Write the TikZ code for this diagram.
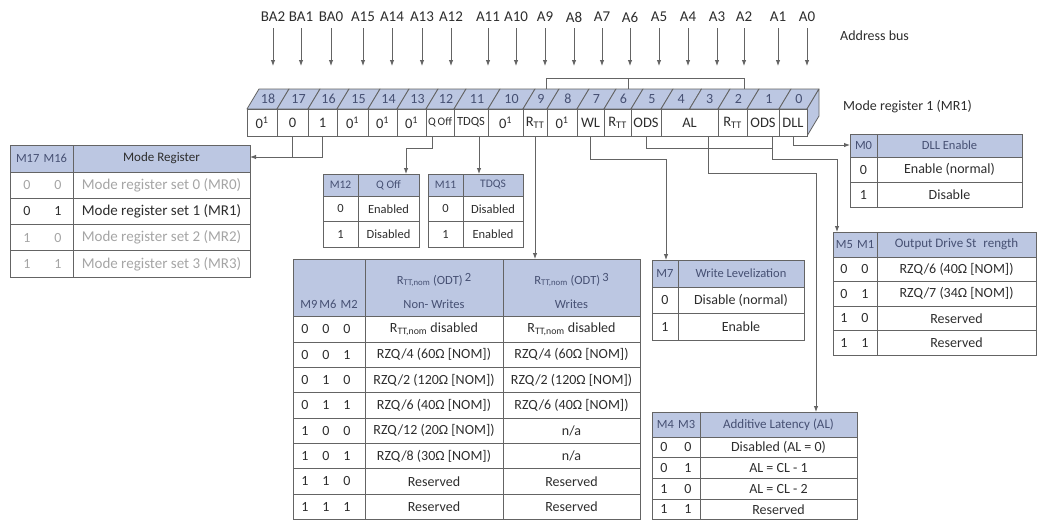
\documentclass[tikz,border=0pt]{standalone}
\usepackage{fontspec}
\setmainfont{Carlito}
\usetikzlibrary{arrows.meta}
\definecolor{hdr}{RGB}{188,199,226}
\definecolor{ln}{RGB}{100,100,100}
\definecolor{txt}{RGB}{45,45,45}
\definecolor{lt}{RGB}{165,165,165}
\definecolor{htx}{RGB}{70,80,115}
\newcommand{\RTT}{R\textsubscript{TT}}
\newcommand{\RTTn}{R\textsubscript{TT,nom}}
\newcommand{\zo}{0\textsuperscript{1}}
\newcommand{\fs}[1]{\fontsize{#1}{#1}\selectfont}
\tikzset{
 lnk/.style={draw=ln, line width=0.9pt},
 arr/.style={lnk, -{Latex[length=6pt,width=4.5pt]}},
 busl/.style={font=\fs{15}, text=txt, inner sep=0pt},
 face/.style={fill=hdr, draw=ln, line width=0.8pt, line join=round},
 cell/.style={draw=ln, line width=0.8pt, fill=white, inner sep=0pt, outer sep=0pt, anchor=north west, minimum height=27pt, font=\fs{14.5}, text=txt},
 bitn/.style={font=\fs{14}, text=htx, inner sep=0pt},
 tbox/.style={draw=ln, line width=0.8pt, inner sep=0pt, outer sep=0pt, anchor=north west},
 tl/.style={draw=ln, line width=0.6pt},
 tt/.style={font=\fs{14}, text=txt, inner sep=0pt},
 th/.style={font=\fs{12.5}, text=htx, inner sep=0pt},
 lab/.style={font=\fs{14}, text=txt, inner sep=0pt, anchor=west},
}
\newcommand{\regcell}[4]{\node[cell, minimum width={#3pt-#2pt}] (#1) at (#2,109) {#4};}
\newcommand{\tworow}[7]{%
 \node[tt, text=#7] (#1a) at (#2,#4) {#5};
 \node[tt, text=#7] (#1b) at (#3,#4) {#6};}
\newcommand{\rrow}[7]{%
 \node[tt] (r#1a) at (305,#2) {#3};
 \node[tt] (r#1b) at (326,#2) {#4};
 \node[tt] (r#1c) at (347,#2) {#5};
 \node[tt] (r#1d) at (434,#2) {#6};
 \node[tt] (r#1e) at (571.5,#2) {#7};}
\begin{document}
\begin{tikzpicture}[x=1pt,y=-1pt]
\useasboundingbox (0,0) rectangle (1038,520);
% ---------------- address bus
\foreach \n/\x in {BA2/273,BA1/301,BA0/331,A15/363,A14/392,A13/422,A12/451,A11/488,A10/516,A9/545,A8/574,A7/602,A6/630,A5/659,A4/688,A3/717,A2/744,A1/778,A0/807}{
 \node[busl] (a\n) at (\x,17) {\n};
 \coordinate (t\n) at (\x,66);
 \draw[arr] (a\n) ++(0,11) -- (t\n);
}
\node[lab] (abus) at (840,36) {Address bus};
\node[lab] (mr1) at (843,107) {Mode register 1 (MR1)};
% ---------------- register top face
\foreach \a/\b/\n in {247/277/18,277/308/17,308/337/16,337/368/15,368/397/14,397/426/13,426/454/12,454/488/11,488/523/10,523/547/9,547/577/8,577/604/7,604/631/6,631/661/5,661/689.5/4,689.5/718/3,718/747/2,747/779/1,779/807/0}{
 \filldraw[face] (\a,109) -- (\a+12,89) -- (\b+12,89) -- (\b,109) -- cycle;
 \node[bitn] (n\n) at ({(\a+\b)/2+6},99) {\n};
}
\filldraw[face] (807,109) -- (819,89) -- (819,116) -- (807,136) -- cycle;
% ---------------- register front cells
\regcell{c18}{247}{277}{\zo}
\regcell{c17}{277}{308}{0}
\regcell{c16}{308}{337}{1}
\regcell{c15}{337}{368}{\zo}
\regcell{c14}{368}{397}{\zo}
\regcell{c13}{397}{426}{\zo}
\regcell{c12}{426}{454}{\fs{11.5}Q\,Off}
\regcell{c11}{454}{488}{\fs{12.5}TDQS}
\regcell{c10}{488}{523}{\zo}
\regcell{c9}{523}{547}{\RTT}
\regcell{c8}{547}{577}{\zo}
\regcell{c7}{577}{604}{WL}
\regcell{c6}{604}{631}{\RTT}
\regcell{c5}{631}{661}{ODS}
\regcell{cAL}{661}{718}{AL}
\regcell{c2}{718}{747}{\RTT}
\regcell{c1}{747}{779}{ODS}
\regcell{c0}{779}{807}{DLL}
% bracket over R_TT bits
\coordinate (bt9) at (546,89);
\coordinate (bt6) at (628,89);
\coordinate (bt2) at (744,89);
\coordinate (bk) at (0,78);
\draw[lnk] (bt9) |- (bt2 |- bk) -- (bt2);
\draw[lnk] (bt6) -- (bt6 |- bk);
% ---------------- Mode register table
\fill[hdr] (10,145) rectangle (250,172);
\draw[tl] (10,172) -- (250,172) (10,198.25) -- (250,198.25) (10,224.5) -- (250,224.5) (10,250.75) -- (250,250.75) (73,145) -- (73,277);
\node[tbox, minimum width=240pt, minimum height=132pt] (tMR) at (10,145) {};
\node[th] (mrh1) at (41.5,158.5) {M17\,\,M16};
\node[th, text=txt, font=\fs{13}] (mrh2) at (161.5,158.5) {Mode Register};
\tworow{mr1}{27}{58}{185.1}{0}{0}{lt}
\tworow{mr2}{27}{58}{211.4}{0}{1}{txt}
\tworow{mr3}{27}{58}{237.6}{1}{0}{lt}
\tworow{mr4}{27}{58}{263.9}{1}{1}{lt}
\node[tt, text=lt, font=\fs{15}] (mr1c) at (161.5,185.1) {Mode register set 0 (MR0)};
\node[tt, font=\fs{15}] (mr2c) at (161.5,211.4) {Mode register set 1 (MR1)};
\node[tt, text=lt, font=\fs{15}] (mr3c) at (161.5,237.6) {Mode register set 2 (MR2)};
\node[tt, text=lt, font=\fs{15}] (mr4c) at (161.5,263.9) {Mode register set 3 (MR3)};
% ---------------- Q Off table
\fill[hdr] (323,174) rectangle (419,196);
\draw[tl] (323,196) -- (419,196) (323,221.5) -- (419,221.5) (358,174) -- (358,247);
\node[tbox, minimum width=96pt, minimum height=73pt] (tQ) at (323,174) {};
\node[th, font=\fs{11.5}] (qh1) at (340.5,185) {M12};
\node[th, font=\fs{11.5}] (qh2) at (388.5,185) {Q Off};
\node[tt, font=\fs{12.5}] (q1a) at (340.5,208.75) {0};
\node[tt, font=\fs{12.5}] (q1b) at (388.5,208.75) {Enabled};
\node[tt, font=\fs{12.5}] (q2a) at (340.5,234.25) {1};
\node[tt, font=\fs{12.5}] (q2b) at (388.5,234.25) {Disabled};
% ---------------- TDQS table
\fill[hdr] (428,174) rectangle (523,196);
\draw[tl] (428,196) -- (523,196) (428,221.5) -- (523,221.5) (463,174) -- (463,247);
\node[tbox, minimum width=95pt, minimum height=73pt] (tT) at (428,174) {};
\node[th, font=\fs{11.5}] (dh1) at (445.5,185) {M11};
\node[th, font=\fs{11.5}] (dh2) at (493,185) {TDQS};
\node[tt, font=\fs{12.5}] (d1a) at (445.5,208.75) {0};
\node[tt, font=\fs{12.5}] (d1b) at (493,208.75) {Disabled};
\node[tt, font=\fs{12.5}] (d2a) at (445.5,234.25) {1};
\node[tt, font=\fs{12.5}] (d2b) at (493,234.25) {Enabled};
% ---------------- RTT table
\fill[hdr] (293,259) rectangle (640,316.5);
\foreach \y in {316.5,341.875,367.25,392.625,418,443.375,468.75,494.125}{\draw[tl] (293,\y) -- (640,\y);}
\draw[tl] (365,259) -- (365,519.5) (503,259) -- (503,519.5);
\node[tbox, minimum width=347pt, minimum height=260.5pt] (tR) at (293,259) {};
\node[th] (rh1) at (329,304) {M9\,M6\,\,M2};
\node[th] (rh2a) at (434,280) {\RTTn\ (ODT)\,\raisebox{3pt}{2}};
\node[th] (rh2b) at (434,304) {Non- Writes};
\node[th] (rh3a) at (571.5,280) {\RTTn\ (ODT)\,\raisebox{3pt}{3}};
\node[th] (rh3b) at (571.5,304) {Writes};
\rrow{1}{329.19}{0}{0}{0}{\RTTn\ disabled}{\RTTn\ disabled}
\rrow{2}{354.56}{0}{0}{1}{RZQ/4 (60Ω [NOM])}{RZQ/4 (60Ω [NOM])}
\rrow{3}{379.94}{0}{1}{0}{RZQ/2 (120Ω [NOM])}{RZQ/2 (120Ω [NOM])}
\rrow{4}{405.31}{0}{1}{1}{RZQ/6 (40Ω [NOM])}{RZQ/6 (40Ω [NOM])}
\rrow{5}{430.69}{1}{0}{0}{RZQ/12 (20Ω [NOM])}{n/a}
\rrow{6}{456.06}{1}{0}{1}{RZQ/8 (30Ω [NOM])}{n/a}
\rrow{7}{481.44}{1}{1}{0}{Reserved}{Reserved}
\rrow{8}{506.81}{1}{1}{1}{Reserved}{Reserved}
% ---------------- Write levelization table
\fill[hdr] (652,260) rectangle (804,287);
\draw[tl] (652,287) -- (804,287) (652,313.5) -- (804,313.5) (678,260) -- (678,340);
\node[tbox, minimum width=152pt, minimum height=80pt] (tW) at (652,260) {};
\node[th] (wh1) at (665,273.5) {M7};
\node[th] (wh2) at (741,273.5) {Write Levelization};
\tworow{w1}{665}{741}{300.25}{0}{Disable (normal)}{txt}
\tworow{w2}{665}{741}{326.75}{1}{Enable}{txt}
% ---------------- DLL table
\fill[hdr] (850,134) rectangle (1022,157);
\draw[tl] (850,157) -- (1022,157) (850,182) -- (1022,182) (877,134) -- (877,207);
\node[tbox, minimum width=172pt, minimum height=73pt] (tD) at (850,134) {};
\node[th] (lh1) at (863.5,145.5) {M0};
\node[th] (lh2) at (949.5,145.5) {DLL Enable};
\tworow{l1}{863.5}{949.5}{169.5}{0}{Enable (normal)}{txt}
\tworow{l2}{863.5}{949.5}{194.5}{1}{Disable}{txt}
% ---------------- ODS table
\fill[hdr] (833,232) rectangle (1036,257);
\draw[tl] (833,257) -- (1036,257) (833,281.5) -- (1036,281.5) (833,306) -- (1036,306) (833,330.5) -- (1036,330.5) (877,232) -- (877,355);
\node[tbox, minimum width=203pt, minimum height=123pt] (tO) at (833,232) {};
\node[th] (oh1) at (855,244.5) {M5\,\,M1};
\node[th, font=\fs{13}] (oh2) at (956.5,244.5) {Output Drive St\hspace{7pt}rength};
\tworow{o1}{844}{865}{269.25}{0}{0}{txt}
\tworow{o2}{844}{865}{293.75}{0}{1}{txt}
\tworow{o3}{844}{865}{318.25}{1}{0}{txt}
\tworow{o4}{844}{865}{342.75}{1}{1}{txt}
\node[tt] (o1c) at (956.5,269.25) {RZQ/6 (40Ω [NOM])};
\node[tt] (o2c) at (956.5,293.75) {RZQ/7 (34Ω [NOM])};
\node[tt] (o3c) at (956.5,318.25) {Reserved};
\node[tt] (o4c) at (956.5,342.75) {Reserved};
% ---------------- AL table
\fill[hdr] (652,412) rectangle (857,437);
\draw[tl] (652,437) -- (857,437) (652,457.75) -- (857,457.75) (652,478.5) -- (857,478.5) (652,499.25) -- (857,499.25) (700,412) -- (700,519.5);
\node[tbox, minimum width=205pt, minimum height=107.5pt] (tA) at (652,412) {};
\node[th] (ah1) at (676,424.5) {M4\,\,M3};
\node[th, font=\fs{13}] (ah2) at (778.5,424.5) {Additive Latency (AL)};
\tworow{al1}{664}{688}{447.4}{0}{0}{txt}
\tworow{al2}{664}{688}{468.1}{0}{1}{txt}
\tworow{al3}{664}{688}{488.9}{1}{0}{txt}
\tworow{al4}{664}{688}{509.4}{1}{1}{txt}
\node[tt] (al1c) at (778.5,447.4) {Disabled (AL = 0)};
\node[tt] (al2c) at (778.5,468.1) {AL = CL - 1};
\node[tt] (al3c) at (778.5,488.9) {AL = CL - 2};
\node[tt] (al4c) at (778.5,509.4) {Reserved};
% ---------------- connectors
\coordinate (kMR) at (250,157);
\draw[lnk] (c17.south) -- (c17.south |- kMR);
\draw[arr] (c16.south) |- (kMR -| tMR.east);
\coordinate (kQ) at (406,148);
\draw[arr] ([xshift=-8pt]c12.south) |- (kQ) -- (kQ |- tQ.north);
\draw[arr] ([xshift=8pt]c11.south) -- ([xshift=8pt]c11.south |- tT.north);
\draw[arr] (c9.south) -- (c9.south |- tR.north);
\coordinate (kW) at (666,159);
\draw[arr] (c7.south) |- (kW) -- (kW |- tW.north);
\coordinate (kO5) at (772,148);
\draw[lnk] (c5.south) |- (kO5);
\coordinate (kO) at (837,159);
\draw[arr] ([xshift=9pt]c1.south) |- (kO) -- (kO |- tO.north);
\coordinate (kA) at (816,173);
\draw[arr] ([xshift=19pt]cAL.south) |- (kA) -- (kA |- tA.north);
\coordinate (kD) at (852,145);
\draw[arr] (c0.south) |- (kD -| tD.west);
\end{tikzpicture}
\end{document}
